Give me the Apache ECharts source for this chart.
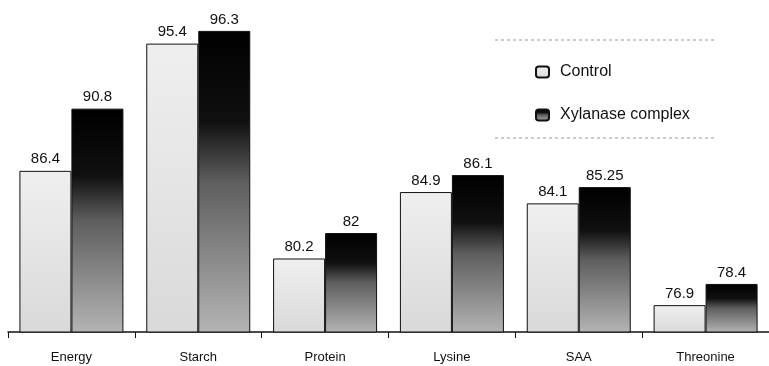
<!DOCTYPE html>
<html>
<head>
<meta charset="utf-8">
<script src="https://cdn.jsdelivr.net/npm/echarts@6/dist/echarts.min.js"></script>
<style>
  html, body { margin: 0; padding: 0; background: #fff; }
  #chart { width: 769px; height: 366px; }
</style>
</head>
<body>
<div id="chart"></div>
<script>
const categories = ['Energy', 'Starch', 'Protein', 'Lysine', 'SAA', 'Threonine'];
const controlValues = [86.4, 95.4, 80.2, 84.9, 84.1, 76.9];
const xylanaseValues = [90.8, 96.3, 82, 86.1, 85.25, 78.4];
const seriesNames = ['Control', 'Xylanase complex'];

const chart = echarts.init(document.getElementById('chart'));

const controlFill = new echarts.graphic.LinearGradient(0, 0, 0, 1, [
    { offset: 0, color: '#efefef' },
    { offset: 1, color: '#d9d9d9' }
]);
const xylanaseFill = new echarts.graphic.LinearGradient(0, 0, 0, 1, [
    { offset: 0, color: '#000000' },
    { offset: 0.3, color: '#101010' },
    { offset: 0.5, color: '#5e5e5e' },
    { offset: 1, color: '#b4b4b4' }
]);

const labelStyle = {
    show: true,
    position: 'top',
    color: '#111',
    fontSize: 15,
    fontFamily: 'Liberation Sans, Arial, sans-serif',
    distance: 4
};

const option = {
    backgroundColor: '#fff',
    animation: false,
    grid: { left: 8, right: -10, top: 21, bottom: 34 },
    legend: {
        orient: 'vertical',
        left: 530,
        top: 59,
        itemGap: 27,
        itemWidth: 13,
        itemHeight: 11,
        textStyle: { fontSize: 16, color: '#111', fontFamily: 'Liberation Sans, Arial, sans-serif', padding: [0, 0, 0, 6] },
        data: seriesNames
    },
    xAxis: {
        type: 'category',
        data: categories,
        axisLine: { lineStyle: { color: '#111', width: 1.5 } },
        axisTick: { show: true, length: 6, inside: false, lineStyle: { color: '#111' } },
        axisLabel: { color: '#111', fontSize: 13, margin: 19, fontFamily: 'Liberation Sans, Arial, sans-serif' }
    },
    yAxis: {
        type: 'value',
        min: 75,
        max: 97,
        show: false
    },
    series: [
        {
            name: seriesNames[0],
            type: 'bar',
            data: controlValues,
            barWidth: 52,
            barGap: '0%',
            itemStyle: { color: controlFill, borderColor: '#111', borderWidth: 1 },
            label: labelStyle
        },
        {
            name: seriesNames[1],
            type: 'bar',
            data: xylanaseValues,
            barWidth: 52,
            itemStyle: { color: xylanaseFill, borderColor: '#111', borderWidth: 1 },
            label: labelStyle
        }
    ],
    graphic: [
        { type: 'line', shape: { x1: 495, y1: 40, x2: 715, y2: 40 }, style: { stroke: '#999', lineDash: [3, 3], lineWidth: 1 } },
        { type: 'line', shape: { x1: 495, y1: 138, x2: 715, y2: 138 }, style: { stroke: '#999', lineDash: [3, 3], lineWidth: 1 } }
    ]
};

chart.setOption(option);
</script>
</body>
</html>
